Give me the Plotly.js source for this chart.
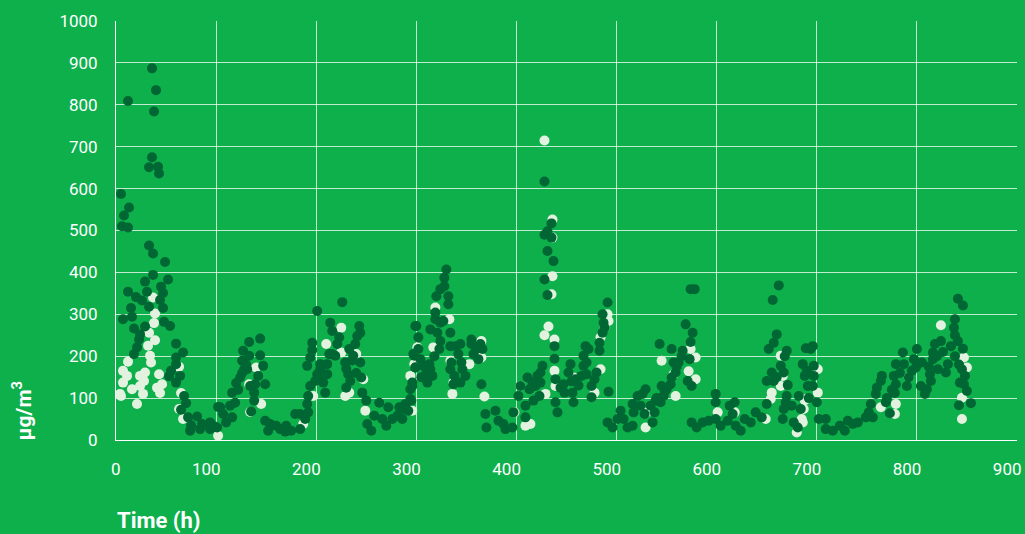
<!DOCTYPE html>
<html>
<head>
<meta charset="utf-8">
<script src="https://cdn.plot.ly/plotly-3.0.1.min.js"></script>
<style>
  html, body { margin: 0; padding: 0; background: #0db04b; }
  #chart { width: 1025px; height: 534px; }
</style>
</head>
<body>
<div id="chart"></div>
<script>
// Hours and concentrations (µg/m³)
const darkHours = [5,6,7,8,12,12,12,13,15,16,18,18,20,21,23,24,26,29,29,31,33,33,33,36,36,37,37,38,40,42,43,44,45,47,47,48,49,52,54,53,55,60,60,60,60,64,67,68,70,65,72,74,75,81,84,94,94,98,102,
86,101,104,107,110,116,114,119,116,120,124,128,131,126,127,133,133,144,144,147,142,134,139,149,138,138,135,149,154,152,160,164,169,170,175,179,184,184,189,192,191,192,194,199,201,204,202,209,207,211,211,213,204,191,194,196,196,201,214,216,223,221,216,219,226,229,232,230,234,233,237,239,241,243,244,244,245,246,250,251,255,258,263,266,270,272,276,281,283,286,289,292,295,294,296,299,298,299,
287,294,296,299,297,302,302,300,304,307,313,314,311,316,314,319,319,320,324,328,328,330,332,332,324,327,321,324,323,334,334,339,344,342,334,338,346,349,337,344,355,355,357,360,364,362,366,365,369,370,379,382,387,389,396,397,402,404,409,413,411,416,419,421,417,423,426,424,424,409,428,428,431,435,435,431,437,428,431,438,438,439,439,441,444,447,448,454,452,457,456,459,467,469,472,467,465,470,475,475,480,483,483,486,487,486,488,491,492,491,496,501,
504,507,511,516,517,516,521,526,529,524,528,536,538,534,539,544,547,545,550,554,555,559,557,562,555,543,566,569,574,576,574,573,571,575,575,580,586,592,599,599,599,604,611,613,618,616,619,624,628,634,639,645,650,652,657,660,656,662,670,655,650,657,664,667,671,670,669,667,666,675,677,681,684,682,686,688,691,689,696,694,697,697,696,
700,702,709,709,716,723,728,731,736,741,749,752,754,756,759,760,764,765,769,773,778,779,777,779,787,786,790,792,797,800,799,804,808,810,813,814,816,818,816,821,824,831,829,834,838,837,838,841,846,841,846,845,848,843,847,850,842,854,
578,126,130,122,305,310,318,540,548,560,565,770,775,783,795,805,812,820,826,838,842,230,236,240,335,345,455,462,470,478,660,668,690,692];
const darkValues = [587,510,288,536,507,354,809,555,315,294,266,205,341,221,240,252,333,378,271,354,318,651,464,887,675,445,394,784,835,652,636,334,366,351,315,282,425,383,272,152,165,230,197,181,137,153,209,105,88,72,54,22,35,56,26,42,26,33,79,
38,30,78,62,42,54,82,89,113,136,149,169,169,189,213,201,234,242,202,177,153,129,133,133,113,94,68,46,38,22,34,26,20,34,22,62,26,62,50,66,86,105,129,141,157,169,149,113,137,157,181,205,181,177,197,215,232,308,280,260,245,229,205,201,329,185,157,125,141,217,201,229,248,272,256,185,149,113,94,38,22,58,89,50,34,78,50,58,78,50,86,70,94,121,137,173,201,272,
74,98,129,173,205,217,245,272,193,177,181,169,137,153,264,288,304,343,360,367,387,407,343,324,280,284,256,236,217,256,224,224,229,205,169,153,169,153,133,137,240,229,205,217,229,193,217,133,62,30,70,46,38,26,30,66,105,129,82,121,149,137,129,153,94,105,177,137,161,54,617,490,498,517,483,451,427,383,346,224,194,145,90,66,125,133,113,181,161,90,113,145,201,224,217,177,153,157,129,102,161,213,232,256,280,300,268,328,115,42,30,50,
70,50,30,34,66,86,105,110,121,82,62,42,66,82,94,90,105,129,121,133,149,161,185,185,217,229,213,276,360,256,234,193,141,129,42,30,42,46,110,90,50,34,46,82,90,62,34,22,50,42,66,54,86,217,232,252,334,369,213,161,141,141,177,161,131,105,90,74,50,82,42,30,74,105,181,153,129,219,224,217,177,153,129,
90,50,50,26,22,34,22,46,38,42,54,66,86,54,110,125,141,153,90,64,112,133,153,181,181,209,129,149,193,217,173,129,110,121,157,141,209,229,193,169,236,181,161,224,288,268,250,236,218,337,321,169,153,137,133,117,83,88,
360,160,180,120,150,160,200,100,115,175,200,100,120,160,165,185,175,200,210,200,180,170,190,160,185,185,140,130,185,145,150,200,165,100];

const lightHours = [37,39,38,33,39,32,34,35,12,7,11,7,16,24,29,28,24,27,5,21,43,46,44,63,65,63,67,102,4,41,
134,145,140,133,187,197,210,225,225,229,233,247,249,240,294,298,
428,436,436,436,435,432,428,438,438,439,429,414,409,404,398,368,336,337,334,353,365,365,317,319,333,301,296,457,478,484,484,488,492,491,
545,559,557,574,579,579,572,529,530,601,618,649,654,655,664,664,666,686,680,687,689,701,701,
688,685,764,779,778,792,824,847,850,845,845];
const lightValues = [340,302,279,256,238,225,201,185,187,165,153,137,121,153,161,141,129,110,105,86,157,133,112,175,112,74,50,10,110,125,
67,86,173,133,38,105,229,268,209,105,113,145,70,205,153,181,
715,526,483,391,348,271,250,240,165,129,110,38,34,129,66,104,110,137,189,181,236,197,221,316,288,221,70,149,113,169,245,268,284,300,
189,105,157,217,197,145,164,30,66,66,66,50,98,113,201,129,153,42,18,74,98,113,169,
95,50,78,86,62,149,274,197,173,50,101];

const tickVals = [0,100,200,300,400,500,600,700,800,900];
const tickText = ['0','100','200','300','400','500','600','700','800','900'];
const yTickVals = [0,100,200,300,400,500,600,700,800,900,1000];
const yTickText = ['0','100','200','300','400','500','600','700','800','900','1000'];

const bg = '#0db04b';
const gridCol = 'rgba(255,255,255,0.75)';
const tickFont = {family: 'Roboto, "Liberation Sans", sans-serif', size: 17, color: '#ffffff'};

const data = [
  {
    type: 'scatter', mode: 'markers', name: 'light',
    x: lightHours, y: lightValues,
    marker: {color: '#e2f2df', size: 10, line: {width: 0}},
    hoverinfo: 'x+y'
  },
  {
    type: 'scatter', mode: 'markers', name: 'dark',
    x: darkHours, y: darkValues,
    marker: {color: '#006633', size: 10, line: {width: 0}},
    hoverinfo: 'x+y'
  }
];

const layout = {
  width: 1025, height: 534,
  paper_bgcolor: bg, plot_bgcolor: bg,
  margin: {l: 116, r: 8, t: 21, b: 94, pad: 0},
  showlegend: false,
  xaxis: {
    range: [0, 900], tickmode: 'array', tickvals: tickVals, ticktext: tickText,
    showgrid: true, gridcolor: gridCol, gridwidth: 1,
    zeroline: false, showline: true, linecolor: '#ffffff', linewidth: 1,
    ticks: '', tickfont: tickFont,
    ticklabelposition: 'outside left', ticklabelshift: 5, ticklabelstandoff: 14
  },
  yaxis: {
    range: [0, 1000], tickmode: 'array', tickvals: yTickVals, ticktext: yTickText,
    showgrid: true, gridcolor: gridCol, gridwidth: 1,
    zeroline: false, showline: true, linecolor: '#ffffff', linewidth: 1,
    ticks: '', tickfont: tickFont, ticklabelstandoff: 14
  },
  annotations: [
    {
      text: '<b>μg/m<sup>3</sup></b>', textangle: -90,
      xref: 'paper', yref: 'paper', x: -0.104, y: 0.069,
      xanchor: 'center', yanchor: 'middle', showarrow: false,
      font: {family: 'Roboto, "Liberation Sans", sans-serif', size: 21, color: '#ffffff'}
    },
    {
      text: '<b>Time (h)</b>',
      xref: 'paper', yref: 'paper', x: 0, y: -0.193,
      xanchor: 'left', yanchor: 'middle', showarrow: false, borderpad: 0,
      font: {family: 'Roboto, "Liberation Sans", sans-serif', size: 22, color: '#ffffff'}
    }
  ]
};

Plotly.newPlot('chart', data, layout, {displayModeBar: false, staticPlot: true});
</script>
</body>
</html>
